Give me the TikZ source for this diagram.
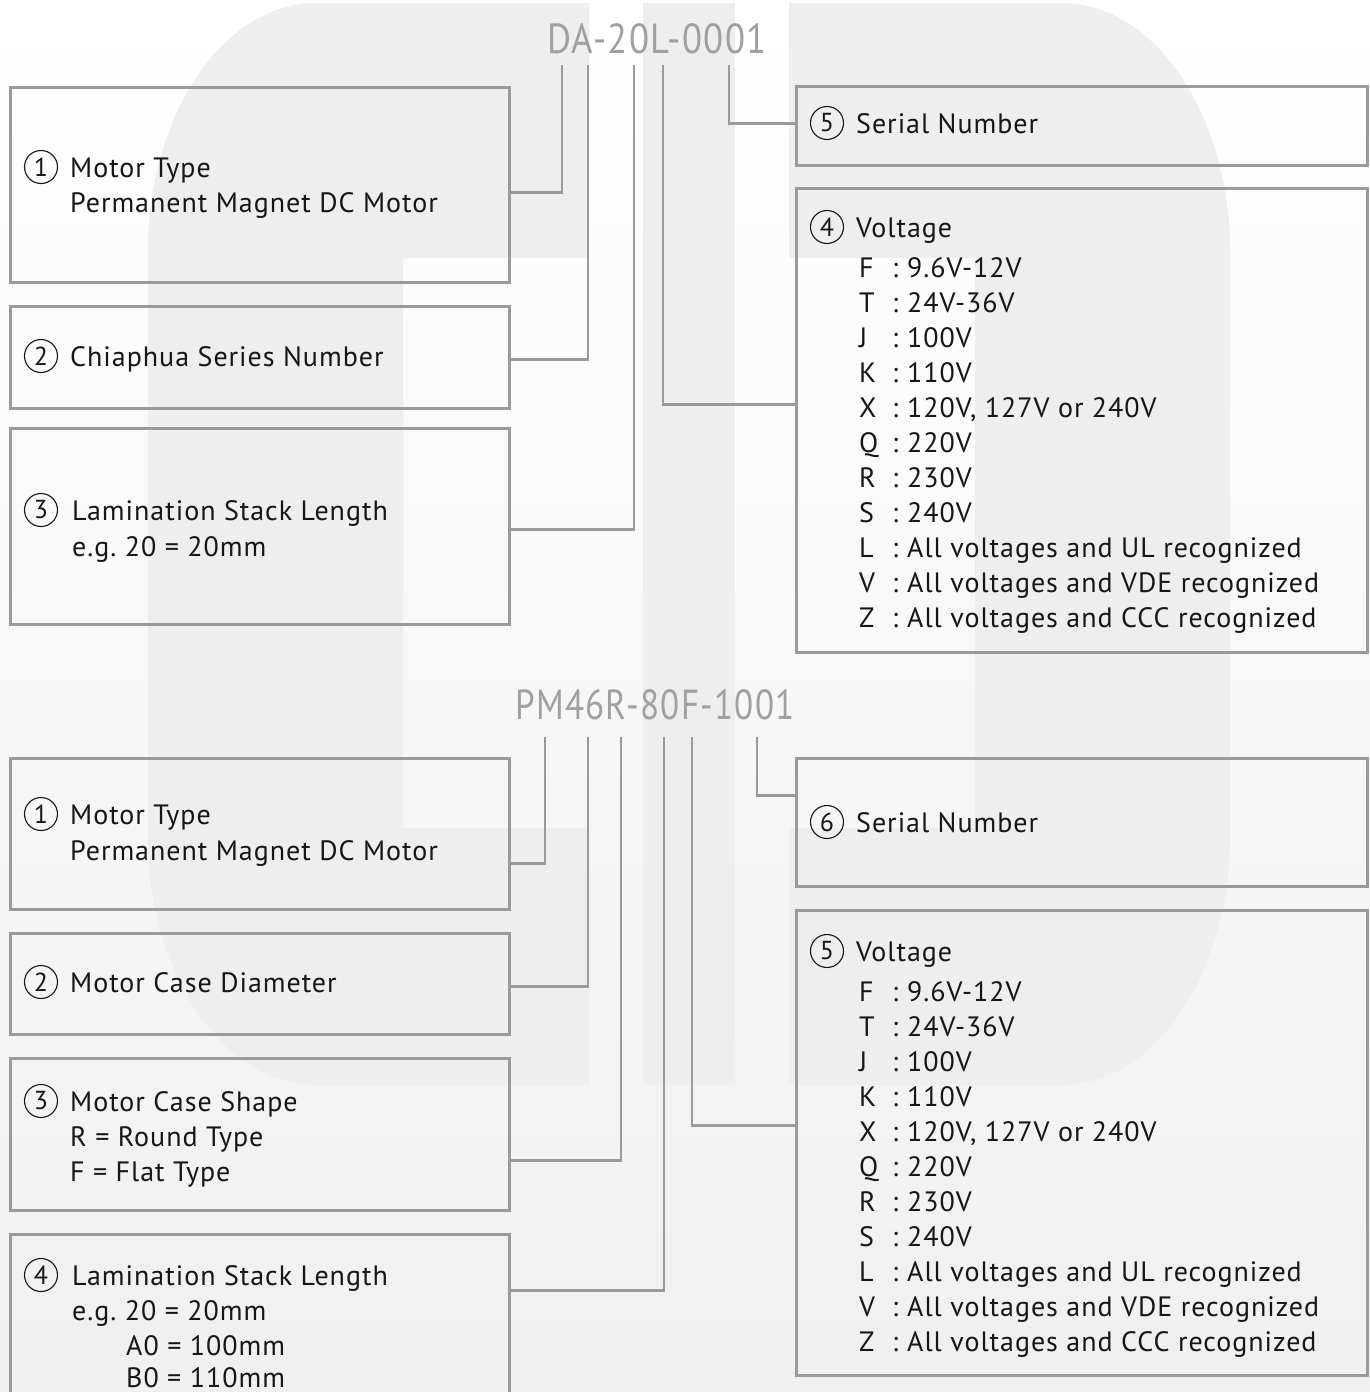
\documentclass[tikz,border=0pt]{standalone}
\usepackage{fontspec}
\setmainfont[LetterSpace=3.5]{PT Sans}
\usetikzlibrary{positioning, calc}
\definecolor{linegray}{HTML}{9A9A9A}
\definecolor{markgray}{HTML}{EEEEEE}
\definecolor{codegray}{HTML}{A0A0A0}
\definecolor{inkblack}{HTML}{161616}
\frenchspacing

\begin{document}
\begin{tikzpicture}[
    x=1pt, y=-1pt,
    every node/.style={font=\fontsize{28}{35}\selectfont, text=inkblack, inner sep=0pt},
    box/.style={rectangle, draw=linegray, line width=2.6pt, anchor=north west, minimum width=499pt},
    rbox/.style={rectangle, draw=linegray, line width=2.6pt, anchor=north west, minimum width=571pt},
    link/.style={draw=linegray, line width=2.6pt},
    numc/.style={circle, draw=inkblack, line width=1.1pt, minimum size=33pt, font=\fontsize{26}{26}\selectfont},
    txt/.style={anchor=base west},
    code/.style={font=\fontsize{42}{42}\selectfont, text=codegray}
]
\useasboundingbox (0,0) rectangle (1370,1392);

% --- Background and logo mark ---
\shade[top color=white, bottom color=black!6] (0,0) rectangle (1370,1392);
\fill[markgray] (589,3) -- (317,3) .. controls (220,3) and (148,120) .. (148,250)
  -- (148,838) .. controls (148,968) and (220,1085) .. (317,1085) -- (589,1085)
  -- (589,828) -- (403,828) -- (403,258) -- (589,258) -- cycle;
\fill[markgray] (643,3) rectangle (735,1085);
\fill[markgray] (789,3) -- (1061,3) .. controls (1158,3) and (1230,120) .. (1230,250)
  -- (1230,838) .. controls (1230,968) and (1158,1085) .. (1061,1085) -- (789,1085)
  -- (789,828) -- (975,828) -- (975,258) -- (789,258) -- cycle;

% --- Part number DA ---
\node[code] (codeA) at (657,39) {\scalebox{0.875}[1]{DA-20L-0001}};

\node[box, minimum height=195pt] (type) at (9,86) {};
\node[box, minimum height=102pt] (series) at (9,305) {};
\node[box, minimum height=196pt] (stack) at (9,427) {};
\node[rbox, minimum height=79pt] (serial) at (795,85) {};
\node[rbox, minimum height=464pt] (volt) at (795,187) {};

\node[numc] (n1) at (41,167) {1};
\node[txt] (t1a) at (70,177) {Motor Type};
\node[txt] (t1b) at (70,212) {Permanent Magnet DC Motor};
\node[numc] (n2) at (41,356) {2};
\node[txt] (t2) at (70,366) {Chiaphua Series Number};
\node[numc] (n3) at (41,510) {3};
\node[txt] (t3a) at (72,520) {Lamination Stack Length};
\node[txt] (t3b) at (72,556) {e.g. 20 = 20mm};
\node[numc] (n5) at (827,123) {5};
\node[txt] (t5) at (856,133) {Serial Number};
\node[numc] (n4) at (827,227) {4};
\node[txt] (t4) at (856,237) {Voltage};

% --- Voltage codes (both lists) ---
\foreach \base/\tag in {277/a, 1001/b}
  \foreach \ltr/\val [count=\i from 0] in {F/9.6V-12V, T/24V-36V, J/100V, K/110V,
      X/{120V, 127V or 240V}, Q/220V, R/230V, S/240V, L/All voltages and UL recognized,
      V/All voltages and VDE recognized, Z/All voltages and CCC recognized}
  {
    \node[txt] (vl\tag\i) at (859,\base+35*\i) {\ltr};
    \node[txt] (vc\tag\i) at (892,\base+35*\i) {:};
    \node[txt] (vv\tag\i) at (907,\base+35*\i) {\val};
  }

% --- Connectors DA ---
\coordinate (a1) at (562,65);
\coordinate (a2) at (588,65);
\coordinate (a3) at (634,65);
\coordinate (a4) at (663,65);
\coordinate (a5) at (729,65);
\draw[link] (a1) |- ([yshift=-7.5pt]type.east);
\draw[link] (a2) |- ([yshift=-2pt]series.east);
\draw[link] (a3) |- ([yshift=-3pt]stack.east);
\draw[link] (a4) |- ([yshift=16pt]volt.west);
\draw[link] (a5) |- ([yshift=2.5pt]serial.west);

% --- Part number PM ---
\node[code] (codeB) at (655,705) {\scalebox{0.835}[1]{PM46R-80F-1001}};

\node[box, minimum height=151pt] (typeb) at (9,757) {};
\node[box, minimum height=101pt] (diam) at (9,932) {};
\node[box, minimum height=152pt] (caseshape) at (9,1057) {};
\node[box, minimum height=200pt] (stackb) at (9,1233) {};
\node[rbox, minimum height=128pt] (serialb) at (795,757) {};
\node[rbox, minimum height=465pt] (voltb) at (795,909) {};

\node[numc] (m1) at (41,814) {1};
\node[txt] (s1a) at (70,824) {Motor Type};
\node[txt] (s1b) at (70,860) {Permanent Magnet DC Motor};
\node[numc] (m2) at (41,982) {2};
\node[txt] (s2) at (70,992) {Motor Case Diameter};
\node[numc] (m3) at (41,1101) {3};
\node[txt] (s3a) at (70,1111) {Motor Case Shape};
\node[txt] (s3b) at (70,1146) {R = Round Type};
\node[txt] (s3c) at (70,1181) {F = Flat Type};
\node[numc] (m4) at (41,1275) {4};
\node[txt] (s4a) at (72,1285) {Lamination Stack Length};
\node[txt] (s4b) at (72,1320) {e.g. 20 = 20mm};
\node[txt] (s4c) at (126,1355) {A0 = 100mm};
\node[txt] (s4d) at (126,1387) {B0 = 110mm};
\node[numc] (m6) at (827,822) {6};
\node[txt] (s6) at (856,832) {Serial Number};
\node[numc] (m5) at (827,951) {5};
\node[txt] (s5) at (856,961) {Voltage};

% --- Connectors PM ---
\coordinate (b1) at (545,737);
\coordinate (b2) at (588,737);
\coordinate (b3) at (621,737);
\coordinate (b4) at (664,737);
\coordinate (b5) at (692,737);
\coordinate (b6) at (757,737);
\draw[link] (b1) |- ([yshift=-29.5pt]typeb.east);
\draw[link] (b2) |- ([yshift=-2.5pt]diam.east);
\draw[link] (b3) |- ([yshift=-26pt]caseshape.east);
\draw[link] (b4) |- ([yshift=44pt]stackb.east);
\draw[link] (b5) |- ([yshift=17.5pt]voltb.west);
\draw[link] (b6) |- ([yshift=27pt]serialb.west);

\end{tikzpicture}
\end{document}
